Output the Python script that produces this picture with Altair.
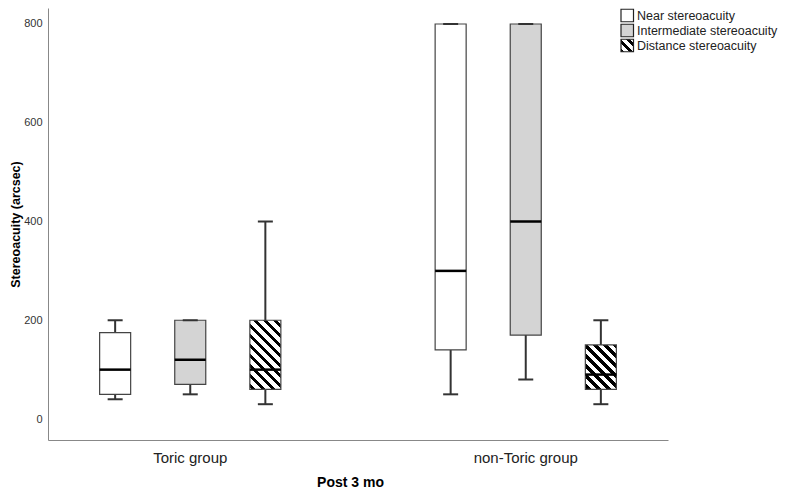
import altair as alt
import pandas as pd

# ---- data ----
groups = ["Toric group", "Toric group", "Toric group",
          "non-Toric group", "non-Toric group", "non-Toric group"]
types = ["Near stereoacuity", "Intermediate stereoacuity", "Distance stereoacuity",
         "Near stereoacuity", "Intermediate stereoacuity", "Distance stereoacuity"]
whisker_low = [40, 50, 30, 50, 80, 30]
q1 = [50, 70, 60, 140, 170, 60]
median = [100, 120, 100, 300, 400, 90]
q3 = [175, 200, 200, 800, 800, 150]
whisker_high = [200, 200, 400, 800, 800, 200]

group_order = ["Toric group", "non-Toric group"]
type_order = ["Near stereoacuity", "Intermediate stereoacuity", "Distance stereoacuity"]
y_ticks = [0, 200, 400, 600, 800]

df = pd.DataFrame({"group": groups, "type": types, "lo": whisker_low, "q1": q1,
                   "med": median, "q3": q3, "hi": whisker_high})
legend_df = pd.DataFrame({"type": type_order})

# ---- layout ----
W, H = 620, 432
Y_DOMAIN = [-42.5, 832.4]
PI1, PO1 = 0.3, 0.074
PI2, PO2 = 0.587, 0.357
step1 = W / (2 - PI1 + 2 * PO1)
bw1 = step1 * (1 - PI1)
step2 = bw1 / (3 - PI2 + 2 * PO2)
BOX_W = step2 * (1 - PI2)
PX_PER_UNIT = H / (Y_DOMAIN[1] - Y_DOMAIN[0])

FONT = "Liberation Sans"
STROKE = "#444444"
DOT_FILL = "#d4d4d4"


def stripes(w, h, period=10.0, duty=0.45, phase=2.0):
    """Linear gradient giving 45-degree down-right stripes inside a w x h box."""
    total = w + h
    s = (w + h) / (w * w + h * h)
    stops = [{"offset": 0, "color": "white"}]
    k = 0
    while True:
        a = (phase + k * period) / total
        b = (phase + k * period + duty * period) / total
        if a >= 1:
            break
        b = min(b, 1.0)
        a = max(a, 0.0)
        stops += [{"offset": a, "color": "white"}, {"offset": a, "color": "black"},
                  {"offset": b, "color": "black"}, {"offset": b, "color": "white"}]
        k += 1
    stops.append({"offset": 1, "color": "white"})
    return {"gradient": "linear", "x1": 0, "y1": 1, "x2": s * w, "y2": 1 - s * h,
            "stops": stops}


y_scale = alt.Scale(domain=Y_DOMAIN, nice=False, zero=False)
y_axis = alt.Axis(values=y_ticks, ticks=False, grid=False, domainColor="#888888",
                  labelFontSize=11, labelColor="#333333", labelPadding=6,
                  titleFontSize=12.5, titleFontWeight="bold", titleColor="black",
                  titleX=-33, titleBaseline="middle", titleAngle=-90)
x_axis = alt.Axis(ticks=False, grid=False, domainColor="#888888", labelAngle=0,
                  labelFontSize=15, labelColor="#222222", labelPadding=10,
                  titleFontSize=14, titleFontWeight="bold", titleColor="black",
                  titlePadding=10, titleX=302)


def Y(field):
    return alt.Y(field, type="quantitative", scale=y_scale, axis=y_axis,
                 title="Stereoacuity (arcsec)")


base = alt.Chart(df).encode(
    x=alt.X("group:N", sort=group_order, title="Post 3 mo", axis=x_axis,
            scale=alt.Scale(paddingInner=PI1, paddingOuter=PO1)),
    xOffset=alt.XOffset("type:N", sort=type_order,
                        scale=alt.Scale(paddingInner=PI2, paddingOuter=PO2)),
)

whisker = base.mark_rule(color="#333333", strokeWidth=2).encode(y=Y("lo"), y2="hi:Q")

box_near = base.transform_filter(alt.datum.type == type_order[0]).mark_bar(
    fill="white", stroke=STROKE, strokeWidth=1.2, opacity=1).encode(y=Y("q1"), y2="q3:Q")
box_mid = base.transform_filter(alt.datum.type == type_order[1]).mark_bar(
    fill=DOT_FILL, stroke=STROKE, strokeWidth=1.2, opacity=1).encode(y=Y("q1"), y2="q3:Q")

hatch_layers = []
for g in group_order:
    row = df[(df["group"] == g) & (df["type"] == type_order[2])].iloc[0]
    h = (row["q3"] - row["q1"]) * PX_PER_UNIT
    hatch_layers.append(
        base.transform_filter((alt.datum.type == type_order[2]) & (alt.datum.group == g))
        .mark_bar(fill=stripes(BOX_W, h), stroke=STROKE, strokeWidth=1.2, opacity=1)
        .encode(y=Y("q1"), y2="q3:Q")
    )

med = base.mark_tick(color="black", thickness=2.5, size=BOX_W, opacity=1).encode(y=Y("med"))
cap_lo = base.mark_tick(color="#333333", thickness=2, size=15, opacity=1).encode(y=Y("lo"))
cap_hi = base.mark_tick(color="#333333", thickness=2, size=15, opacity=1).encode(y=Y("hi"))

# ---- manual legend (top right) ----
LEG_X0, LEG_X1, LEG_TX = 573, 585.5, 589
LEG_Y = [7.5, 22.5, 37.5]
leg_fills = ["white", DOT_FILL, stripes(12.5, 12.5, period=9.0, duty=0.42, phase=-0.5)]
legend_layers = []
for t, cy, f in zip(type_order, LEG_Y, leg_fills):
    src = alt.Chart(legend_df).transform_filter(alt.datum.type == t)
    legend_layers.append(src.mark_rect(fill=f, stroke="#222222", strokeWidth=1.2).encode(
        x=alt.value(LEG_X0), x2=alt.value(LEG_X1),
        y=alt.value(cy - 6.25), y2=alt.value(cy + 6.25)))
    legend_layers.append(src.mark_text(align="left", baseline="middle", fontSize=12.5,
                                       font=FONT, color="#222222").encode(
        x=alt.value(LEG_TX), y=alt.value(cy + 0.5), text="type:N"))

chart = alt.layer(
    whisker, box_near, box_mid, *hatch_layers, med, cap_lo, cap_hi, *legend_layers
).properties(
    width=W, height=H,
    padding={"left": 40, "top": 0, "right": 110, "bottom": 55},
    autosize=alt.AutoSizeParams(type="none"),
).configure(
    font=FONT, view=alt.ViewConfig(stroke=None)
)

chart.save("out.html", embed_options={"renderer": "svg", "actions": False})
